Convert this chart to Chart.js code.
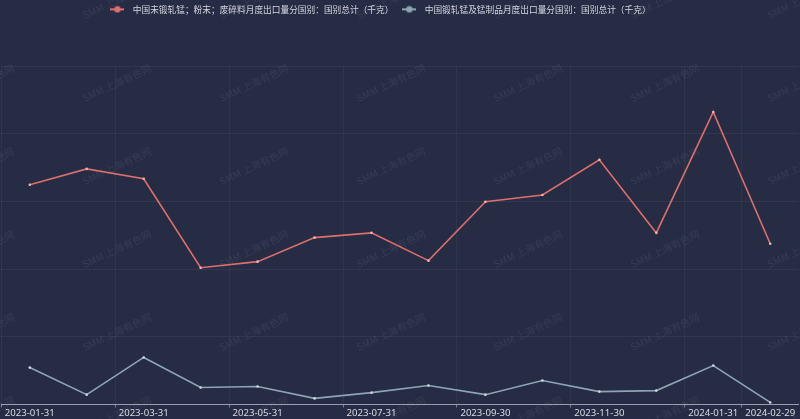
<!DOCTYPE html>
<html><head><meta charset="utf-8">
<script src="https://cdn.jsdelivr.net/npm/chart.js@4.4.1/dist/chart.umd.min.js"></script>
<style>html,body{margin:0;padding:0;background:#272c45;overflow:hidden}#wrap{width:800px;height:419px}</style>
</head><body><div id="wrap"><canvas id="c" width="800" height="419"></canvas></div>
<script>
const categories = ['2023-01-31','2023-02-28','2023-03-31','2023-04-30','2023-05-31','2023-06-30','2023-07-31','2023-08-31','2023-09-30','2023-10-31','2023-11-30','2023-12-31','2024-01-31','2024-02-29'];
const seriesNames = ['中国未锻轧锰；粉末；废碎料月度出口量分国别：国别总计（千克）','中国锻轧锰及锰制品月度出口量分国别：国别总计（千克）'];
const unwroughtMn = [64900,69600,66700,40400,42200,49300,50700,42500,59900,61900,72300,50700,86400,47500];
const wroughtMn = [10900,2900,13900,5000,5300,1800,3500,5600,2900,7100,3800,4100,11500,600];
const xTickIndices = [0,2,4,6,8,10,12,13];
const yTicks = [0,20000,40000,60000,80000,100000];
const watermarkText = 'SMM 上海有色网';

const BG = '#272c45';
const COLORS = ['#dc6f6c','#8ca5b2'];

function legendMarker(color){
  const c = document.createElement('canvas');
  c.width = 14; c.height = 8;
  const g = c.getContext('2d');
  g.strokeStyle = color; g.lineWidth = 2;
  g.beginPath(); g.moveTo(0,4); g.lineTo(14,4); g.stroke();
  g.fillStyle = color;
  g.beginPath(); g.arc(7,4,3.2,0,Math.PI*2); g.fill();
  return c;
}
const markers = COLORS.map(legendMarker);

const bgPlugin = {
  id:'bg',
  beforeDraw(chart){
    const {ctx,width,height} = chart;
    ctx.save(); ctx.fillStyle = BG; ctx.fillRect(0,0,width,height); ctx.restore();
  }
};
const watermarkPlugin = {
  id:'wm',
  beforeDatasetsDraw(chart){
    const {ctx} = chart;
    ctx.save();
    ctx.font = '10px "Noto Sans CJK SC", sans-serif';
    ctx.fillStyle = 'rgba(255,255,255,0.07)';
    ctx.textAlign = 'center'; ctx.textBaseline = 'middle';
    for (let cx = -20; cx < 900; cx += 137){
      for (let cy = 0; cy < 460; cy += 83){
        ctx.save(); ctx.translate(cx, cy); ctx.rotate(-25*Math.PI/180);
        ctx.fillText(watermarkText, 0, 0); ctx.restore();
      }
    }
    ctx.restore();
  }
};
const legendSpace = {
  id:'legendSpace',
  beforeInit(chart){
    const lg = chart.legend;
    const orig = lg.fit;
    lg.fit = function(){ orig.call(this); this.height = 66; };
  },
  afterLayout(chart){
    chart.legend.right -= 40;
  }
};
const shownTick = (i) => xTickIndices.includes(i);

new Chart(document.getElementById('c'), {
  type:'line',
  data:{
    labels: categories,
    datasets:[
      {label: seriesNames[0], data: unwroughtMn, borderColor: COLORS[0], backgroundColor: COLORS[0], borderWidth:1.6, pointRadius:1.3, pointHoverRadius:1.3, pointStyle:'circle', pointBackgroundColor:'#f2b4b1', pointBorderWidth:0, pointHoverBorderWidth:0, tension:0},
      {label: seriesNames[1], data: wroughtMn, borderColor: COLORS[1], backgroundColor: COLORS[1], borderWidth:1.6, pointRadius:1.3, pointHoverRadius:1.3, pointStyle:'circle', pointBackgroundColor:'#cbd8df', pointBorderWidth:0, pointHoverBorderWidth:0, tension:0}
    ]
  },
  options:{
    responsive:false,
    animation:false,
    devicePixelRatio:1,
    events:[],
    layout:{padding:{left:-4,right:-1,top:0,bottom:0}},
    plugins:{
      legend:{
        position:'top',
        labels:{
          usePointStyle:true,
          pointStyleWidth:22,
          padding:5,
          color:'#d4d6de',
          font:{size:8.7, family:'"Noto Sans CJK SC", sans-serif'},
          generateLabels(chart){
            return chart.data.datasets.map((ds,i)=>({
              text: ds.label, fillStyle: COLORS[i], strokeStyle: COLORS[i], lineWidth:0,
              pointStyle: markers[i], hidden:false, datasetIndex:i, fontColor:'#d4d6de'
            }));
          }
        }
      },
      tooltip:{enabled:false}
    },
    scales:{
      x:{
        type:'category',
        offset:true,
        afterFit(scale){ scale.paddingLeft = 0; scale.paddingRight = 0; },
        grid:{
          offset:true,
          color:(c)=> shownTick(c.index) ? 'rgba(255,255,255,0.045)' : 'rgba(0,0,0,0)',
          drawTicks:true, tickLength:3,
          tickColor:(c)=> shownTick(c.index) ? 'rgba(200,205,215,0.5)' : 'rgba(0,0,0,0)'
        },
        border:{display:true, color:'#9a9eae', width:1},
        ticks:{
          autoSkip:false, maxRotation:0, padding:0,
          color:'#d8dae2',
          font:{size:9.6, family:'"Noto Sans", sans-serif'},
          callback(v, i){ return shownTick(i) ? categories[i] : ''; }
        }
      },
      y:{
        min: yTicks[0], max: yTicks[yTicks.length-1],
        afterBuildTicks(scale){ scale.ticks = yTicks.map(v=>({value:v})); },
        afterFit(scale){ scale.width = 0; },
        grid:{color:'rgba(255,255,255,0.055)', drawTicks:false},
        border:{display:false},
        ticks:{display:false}
      }
    }
  },
  plugins:[bgPlugin, watermarkPlugin, legendSpace]
});
</script></body></html>
